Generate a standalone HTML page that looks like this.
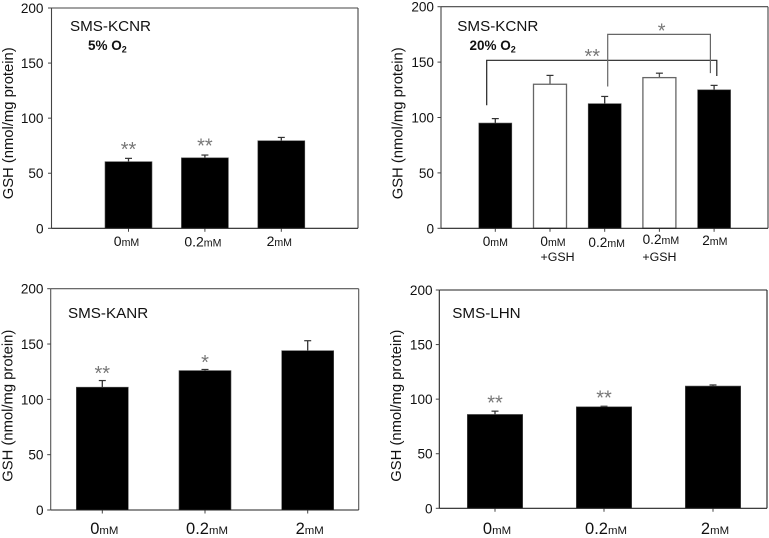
<!DOCTYPE html>
<html>
<head>
<meta charset="utf-8">
<title>GSH levels</title>
<style>
html,body{margin:0;padding:0;background:#fff;}
svg{display:block;}
text{font-family:"Liberation Sans",Arial,sans-serif;fill:#111;}
</style>
</head>
<body>
<svg id="fig" width="769" height="538" viewBox="0 0 769 538" xmlns="http://www.w3.org/2000/svg"></svg>
<script>
// ---- data ----
const yTicks = [0, 50, 100, 150, 200];
const yTitle = 'GSH (nmol/mg protein)';

const kcnr5Categories = ['0', '0.2', '2'];
const kcnr5Values = [60.5, 64, 79.5];
const kcnr5ErrorTops = [63.5, 66.5, 82.5];
const kcnr5Stars = ['**', '**', ''];

const kcnr20Categories = ['0', '0', '0.2', '0.2', '2'];
const kcnr20Second = ['', '+GSH', '', '+GSH', ''];
const kcnr20Values = [95, 130, 112.5, 136, 125];
const kcnr20ErrorTops = [99, 138, 119, 140, 129];
const kcnr20Fills = ['black', 'white', 'black', 'white', 'black'];

const kanrCategories = ['0', '0.2', '2'];
const kanrValues = [111, 126, 144];
const kanrErrorTops = [117, 127, 153];
const kanrStars = ['**', '*', ''];

const lhnCategories = ['0', '0.2', '2'];
const lhnValues = [86, 93, 112];
const lhnErrorTops = [89, 93.5, 113];
const lhnStars = ['**', '**', ''];

// ---- layout ----
const NS = 'http://www.w3.org/2000/svg';
const fig = document.getElementById('fig');
const STAR_BASE = 9;

function mk(tag, attrs, parent) {
  const e = document.createElementNS(NS, tag);
  for (const k in attrs) e.setAttribute(k, attrs[k]);
  parent.appendChild(e);
  return e;
}

function line(parent, x1, y1, x2, y2, color, w, name) {
  const l = mk('line', {x1: x1, y1: y1, x2: x2, y2: y2, stroke: color, 'stroke-width': w}, parent);
  
  
  return l;
}

function drawPanel(p) {
  const g = mk('g', {}, fig);
  
  

  const yScale = v => p.bottom - (v / 200) * (p.bottom - p.top);
  const xScale = i => p.firstX + i * p.stepX;

  // bars first so the baseline sits on top
  p.values.forEach((v, i) => {
    const cx = xScale(i);
    const errTop = yScale(p.errorTops[i]);
    const white = p.fills && p.fills[i] === 'white';

    line(g, cx, yScale(v), cx, errTop, white ? '#555' : '#333', 1.3, 'error-bar-stem');
    line(g, cx - 3.5, errTop, cx + 3.5, errTop, '#333', 1.2, 'error-bar-cap');

    const bar = mk('rect', {
      x: cx - p.barW / 2,
      y: yScale(v),
      width: p.barW,
      height: p.bottom - yScale(v),
      fill: white ? '#fff' : '#000',
      stroke: white ? '#666' : '#555',
      'stroke-width': white ? 1.3 : 0.6
    }, g);
    
    

    if (p.stars && p.stars[i]) {
      const s = mk('text', {x: cx, y: errTop - p.starGap + STAR_BASE, 'text-anchor': 'middle', 'font-size': 20, style: 'fill:#777'}, g);
      
      
      s.textContent = p.stars[i];
    }

    // x tick + label
    line(g, cx, p.bottom, cx, p.bottom + 3.5, '#444', 1, 'x-tick');
    const dy = p.labelNudge ? p.labelNudge[i] : 0;
    const dx = p.labelShifts ? p.labelShifts[i] : p.labelShift;
    const t = mk('text', {x: cx + dx, y: p.labelY + dy, 'text-anchor': 'middle', 'font-size': p.labelSize}, g);
    
    
    t.appendChild(document.createTextNode(p.categories[i]));
    const u = mk('tspan', {'font-size': p.unitSize}, t);
    u.textContent = 'mM';

    if (p.second && p.second[i]) {
      const t2 = mk('text', {x: cx + p.secondShifts[i], y: p.labelY + 15, 'text-anchor': 'middle', 'font-size': 12.4}, g);
      
      
      t2.textContent = p.second[i];
    }
  });

  // frame
  line(g, p.left, p.top, p.right, p.top, p.frameColor, 1.1, 'frame-top');
  line(g, p.right, p.top, p.right, p.bottom, p.frameColor, 1.1, 'frame-right');
  line(g, p.left, p.top, p.left, p.bottom, p.frameColor, 1.1, 'y-axis');
  line(g, p.left, p.bottom, p.right, p.bottom, '#222', 1.1, 'x-axis');

  // y ticks
  yTicks.forEach(v => {
    const y = yScale(v);
    line(g, p.left - 3.5, y, p.left, y, '#444', 1, 'y-tick');
    const t = mk('text', {x: p.tickRight, y: y + 5, 'text-anchor': 'end', 'font-size': 13.6}, g);
    
    
    t.textContent = v;
  });

  // y title
  const yt = mk('text', {
    transform: 'translate(' + p.titleX + ',' + p.titleY + ') rotate(-90)',
    'text-anchor': 'middle',
    'font-size': 14.8,
    textLength: 152,
    lengthAdjust: 'spacingAndGlyphs'
  }, g);
  
  
  yt.textContent = yTitle;

  // panel label
  const lab = mk('text', {x: p.cellX, y: p.cellY, 'font-size': 15.2}, g);
  
  
  lab.textContent = p.cell;

  if (p.oxygen) {
    const o = mk('text', {x: p.oxX, y: p.oxY, 'font-size': 13.5, 'font-weight': 'bold'}, g);
    
    
    o.appendChild(document.createTextNode(p.oxygen + ' O'));
    const sub = mk('tspan', {'font-size': 9, dy: 2.5}, o);
    sub.textContent = '2';
  }

  if (p.brackets) {
    p.brackets.forEach(b => {
      const x1 = xScale(b.from) + b.dx1;
      const x2 = xScale(b.to) + b.dx2;
      const pl = mk('polyline', {
        points: [x1, yScale(b.v1), x1, yScale(b.level), x2, yScale(b.level), x2, yScale(b.v2)].join(' '),
        fill: 'none',
        stroke: b.color,
        'stroke-width': 1.2
      }, g);
      
      
      const s = mk('text', {x: b.starX, y: b.starY + STAR_BASE, 'text-anchor': 'middle', 'font-size': 20, style: 'fill:#777'}, g);
      
      
      s.textContent = b.stars;
    });
  }
}

drawPanel({
  name: 'panel-kcnr-5-percent', cell: 'SMS-KCNR', oxygen: '5%',
  categories: kcnr5Categories, values: kcnr5Values, errorTops: kcnr5ErrorTops, stars: kcnr5Stars,
  left: 51.5, right: 358, top: 8, bottom: 228.3,
  firstX: 128.5, stepX: 76.4, barW: 47,
  labelY: 246, labelSize: 14, unitSize: 10.6, labelShift: -2, labelNudge: [0, 0.5, 0],
  tickRight: 43.5, titleX: 13, titleY: 123.3,
  cellX: 70, cellY: 31, oxX: 88, oxY: 50,
  starGap: 11.5, frameColor: '#444'
});

drawPanel({
  name: 'panel-kcnr-20-percent', cell: 'SMS-KCNR', oxygen: '20%',
  categories: kcnr20Categories, values: kcnr20Values, errorTops: kcnr20ErrorTops,
  second: kcnr20Second, secondShifts: [0, 7.5, 0, 0, 0], fills: kcnr20Fills,
  left: 441, right: 768, top: 6.7, bottom: 228.3,
  firstX: 495.3, stepX: 54.7, barW: 33,
  labelY: 246, labelSize: 13.6, unitSize: 10.6, labelShifts: [0, 3, 2, 1.5, 0.7], labelNudge: [0, 0, 1, -2, -1],
  tickRight: 434, titleX: 402.5, titleY: 123.3,
  cellX: 457.3, cellY: 31, oxX: 469.5, oxY: 50,
  frameColor: '#444',
  brackets: [
    {from: 0, to: 4, dx1: -8.6, dx2: 2.7, v1: 111, v2: 137.5, level: 151.6, color: '#222', stars: '**', starX: 592.3, starY: 54},
    {from: 2, to: 4, dx1: 3, dx2: -3.7, v1: 128, v2: 140, level: 175, color: '#666', stars: '*', starX: 661.7, starY: 28.3}
  ]
});

drawPanel({
  name: 'panel-kanr', cell: 'SMS-KANR',
  categories: kanrCategories, values: kanrValues, errorTops: kanrErrorTops, stars: kanrStars,
  left: 50.7, right: 358.7, top: 288.7, bottom: 510,
  firstX: 102.3, stepX: 102.7, barW: 52,
  labelY: 534, labelSize: 16.5, unitSize: 11.4, labelShift: 2, labelNudge: [0, 0, 0],
  tickRight: 43.5, titleX: 12.5, titleY: 405.7,
  cellX: 68, cellY: 318,
  starGap: 9.5, frameColor: '#555'
});

drawPanel({
  name: 'panel-lhn', cell: 'SMS-LHN',
  categories: lhnCategories, values: lhnValues, errorTops: lhnErrorTops, stars: lhnStars,
  left: 439.3, right: 767, top: 290, bottom: 508.3,
  firstX: 495, stepX: 109, barW: 55.4,
  labelY: 534, labelSize: 16.5, unitSize: 11.4, labelShift: 2, labelNudge: [0, 0, 0],
  tickRight: 432.6, titleX: 401, titleY: 405.7,
  cellX: 452.3, cellY: 318,
  starGap: 10.5, frameColor: '#222'
});
</script>
</body>
</html>
